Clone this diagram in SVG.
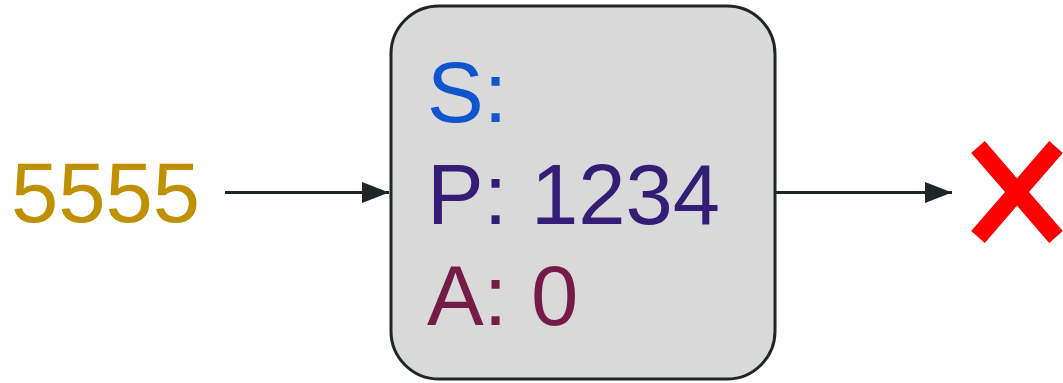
<svg xmlns="http://www.w3.org/2000/svg" width="1063" height="383" viewBox="0 0 1063 383">
  <style>
    .lbl { font-family: "Liberation Sans", Arial, sans-serif; font-size: 85px; }
    .edge { stroke: #1f2627; stroke-width: 3; fill: none; }
  </style>
  <defs>
    <marker id="arrow" markerWidth="9" markerHeight="7" refX="9" refY="3.5" orient="auto" markerUnits="strokeWidth">
      <path d="M0,0 L9,3.5 L0,7 Z" fill="#1f2627"/>
    </marker>
  </defs>

  <g id="input">
    <text class="lbl" x="11" y="222" fill="#bf9000">5555</text>
  </g>

  <g id="state">
    <rect x="391" y="6" width="384" height="373" rx="48" ry="48" fill="#d9d9d9" stroke="#1f2627" stroke-width="3"/>
    <text class="lbl" x="427" y="122" fill="#1155cc">S:</text>
    <text class="lbl" x="427" y="224" fill="#351c75">P: 1234</text>
    <text class="lbl" x="427" y="325" fill="#741b47">A: 0</text>
  </g>

  <g id="reject">
    <path d="M978,147 L1056,237 M978,237 L1056,147" stroke="#ff0000" stroke-width="18" fill="none"/>
  </g>

  <g id="connectors">
    <line class="edge" x1="225" y1="192.5" x2="389" y2="192.5" marker-end="url(#arrow)"/>
    <line class="edge" x1="776" y1="192.5" x2="952" y2="192.5" marker-end="url(#arrow)"/>
  </g>
</svg>
